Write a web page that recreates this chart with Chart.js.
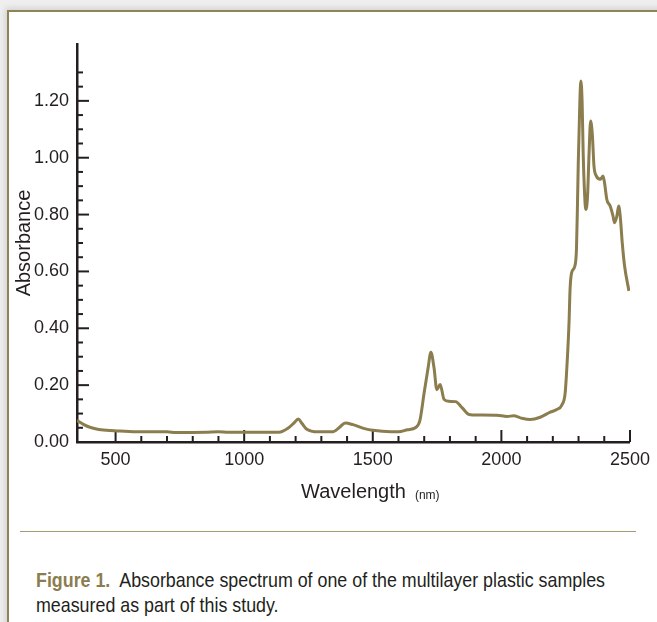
<!DOCTYPE html>
<html>
<head>
<meta charset="utf-8">
<script src="https://cdn.jsdelivr.net/npm/chart.js@4.4.1/dist/chart.umd.min.js"></script>
<style>
  html, body { margin: 0; padding: 0; }
  body { width: 657px; height: 622px; background: #efefef; position: relative; overflow: hidden; }
  .frame {
    position: absolute; left: 7px; top: 10px; width: 700px; height: 700px;
    background: #fff; border-top: 2px solid #8f8457; border-left: 2px solid #8f8457;
    box-shadow: -2px -2px 6px rgba(0,0,0,0.12);
  }
  .rule { position: absolute; left: 20px; top: 531px; width: 616px; height: 0; border-top: 1px solid #a59a70; }
  #spectrum { position: absolute; left: 0; top: 0; }
  .caption {
    position: absolute; left: 36px; top: 567px; white-space: nowrap;
    font-family: 'Liberation Sans', Arial, sans-serif;
    font-size: 21px; line-height: 25px; color: #231f20;
    transform-origin: left top;
  }
  .caption b { color: #8b7d4f; }
</style>
</head>
<body>
<div class="frame"></div>
<div class="rule"></div>
<canvas id="spectrum" width="657" height="520"></canvas>
<div class="caption" id="caption"><span id="line1"><b>Figure 1.</b>&nbsp; Absorbance spectrum of one of the multilayer plastic samples</span><br>measured as part of this study.</div>
<script>
// Spectrum
const wavelengths = [350, 375, 400, 435, 495, 580, 700, 735, 850, 900, 940, 1050, 1135, 1170, 1195, 1210, 1225, 1242, 1287, 1345,
  1371, 1393, 1423, 1468, 1500, 1571, 1600, 1635, 1667, 1683, 1700, 1715, 1726, 1738, 1749, 1762, 1777, 1796, 1822, 1848,
  1874, 1910, 1983, 2022, 2048, 2074, 2112, 2151, 2190, 2215, 2235, 2248, 2257, 2263, 2267, 2273, 2286, 2292, 2296, 2299,
  2305, 2309, 2314, 2318, 2324, 2328, 2335, 2341, 2347, 2354, 2360, 2369, 2385, 2395, 2401, 2410, 2423, 2434, 2440, 2449,
  2456, 2462, 2470, 2479, 2496];
const absorbance = [0.076, 0.062, 0.052, 0.044, 0.040, 0.036, 0.036, 0.033, 0.034, 0.036, 0.034, 0.034, 0.034, 0.048, 0.068, 0.081, 0.065, 0.046, 0.036, 0.036,
  0.052, 0.067, 0.061, 0.047, 0.041, 0.036, 0.036, 0.043, 0.051, 0.075, 0.175, 0.260, 0.316, 0.262, 0.184, 0.202, 0.150, 0.143, 0.142, 0.120,
  0.097, 0.095, 0.094, 0.090, 0.092, 0.085, 0.079, 0.087, 0.105, 0.114, 0.130, 0.173, 0.302, 0.419, 0.537, 0.595, 0.620, 0.680, 0.842, 0.983,
  1.194, 1.270, 1.194, 1.018, 0.865, 0.818, 0.865, 1.018, 1.129, 1.076, 0.971, 0.936, 0.924, 0.936, 0.912, 0.853, 0.830, 0.795, 0.771, 0.795,
  0.830, 0.795, 0.700, 0.619, 0.531];

const xLabels = [500, 1000, 1500, 2000, 2500];
const yLabels = [0, 0.2, 0.4, 0.6, 0.8, 1.0, 1.2];

const ink = '#231f20';
const olive = '#8b7d4e';
const fontFamily = "'Liberation Sans', Arial, sans-serif";
const tickFont = { family: fontFamily, size: 18 };

// squeeze the caption to the condensed width of the original
const line1 = document.getElementById('line1');
const caption = document.getElementById('caption');
caption.style.transform = 'scaleX(' + (569 / line1.getBoundingClientRect().width) + ')';

// inward tick marks + the small "(nm)" unit next to the x title
const axisMarks = {
  id: 'axisMarks',
  beforeDatasetsDraw(chart) {
    const { ctx, chartArea, scales: { x, y } } = chart;
    ctx.save();
    ctx.strokeStyle = ink;
    ctx.lineWidth = 2;
    x.ticks.forEach(t => {
      if (t.value % 100 !== 0) return;
      const px = x.getPixelForValue(t.value);
      const len = t.value % 500 === 0 ? 12 : 6;
      ctx.beginPath();
      ctx.moveTo(px, chartArea.bottom);
      ctx.lineTo(px, chartArea.bottom - len);
      ctx.stroke();
    });
    y.ticks.forEach(t => {
      const n = Math.round(t.value * 20);
      if (n === 0 || n > 26) return;
      const py = y.getPixelForValue(t.value);
      const len = n % 4 === 0 ? 12 : 6;
      ctx.beginPath();
      ctx.moveTo(chartArea.left, py);
      ctx.lineTo(chartArea.left + len, py);
      ctx.stroke();
    });
    ctx.restore();
  },
  afterDraw(chart) {
    const { ctx, scales: { x } } = chart;
    ctx.save();
    ctx.font = '20px ' + fontFamily;
    const w = ctx.measureText('Wavelength').width;
    const cx = (x.left + x.right) / 2;
    const ty = x.bottom - 16 - 12;
    ctx.font = '12px ' + fontFamily;
    ctx.fillStyle = ink;
    ctx.textBaseline = 'alphabetic';
    ctx.fillText('(nm)', cx + w / 2 + 9, ty + 7);
    ctx.restore();
  }
};

new Chart(document.getElementById('spectrum'), {
  type: 'line',
  data: {
    datasets: [{
      data: wavelengths.map((w, i) => ({ x: w, y: absorbance[i] })),
      borderColor: olive,
      borderWidth: 3,
      pointRadius: 0,
      fill: false,
      cubicInterpolationMode: 'monotone'
    }]
  },
  options: {
    responsive: false,
    animation: false,
    layout: { padding: { top: 44, right: 23, bottom: 0, left: 0 } },
    scales: {
      x: {
        type: 'linear',
        min: 350,
        max: 2500,
        afterFit: s => { s.height = 78; },
        grid: { display: false, drawTicks: false },
        border: { display: true, color: ink, width: 2.5 },
        ticks: {
          stepSize: 100,
          autoSkip: false,
          maxRotation: 0,
          padding: 7,
          color: ink,
          font: tickFont,
          callback: v => xLabels.includes(v) ? String(v) : ''
        },
        title: {
          display: true,
          text: 'Wavelength',
          color: ink,
          font: { family: fontFamily, size: 20 },
          padding: { top: 0, bottom: 16 }
        }
      },
      y: {
        min: 0,
        max: 1.4,
        afterFit: s => { s.width = 77; },
        grid: { display: false, drawTicks: false },
        border: { display: true, color: ink, width: 2.5 },
        ticks: {
          stepSize: 0.05,
          autoSkip: false,
          padding: 8,
          color: ink,
          font: tickFont,
          callback: v => yLabels.some(l => Math.abs(l - v) < 1e-6) ? v.toFixed(2) : ''
        },
        title: {
          display: true,
          text: 'Absorbance',
          color: ink,
          font: { family: fontFamily, size: 20 },
          padding: { top: 12, bottom: 0 }
        }
      }
    },
    plugins: { legend: { display: false }, tooltip: { enabled: false } }
  },
  plugins: [axisMarks]
});
</script>
</body>
</html>
